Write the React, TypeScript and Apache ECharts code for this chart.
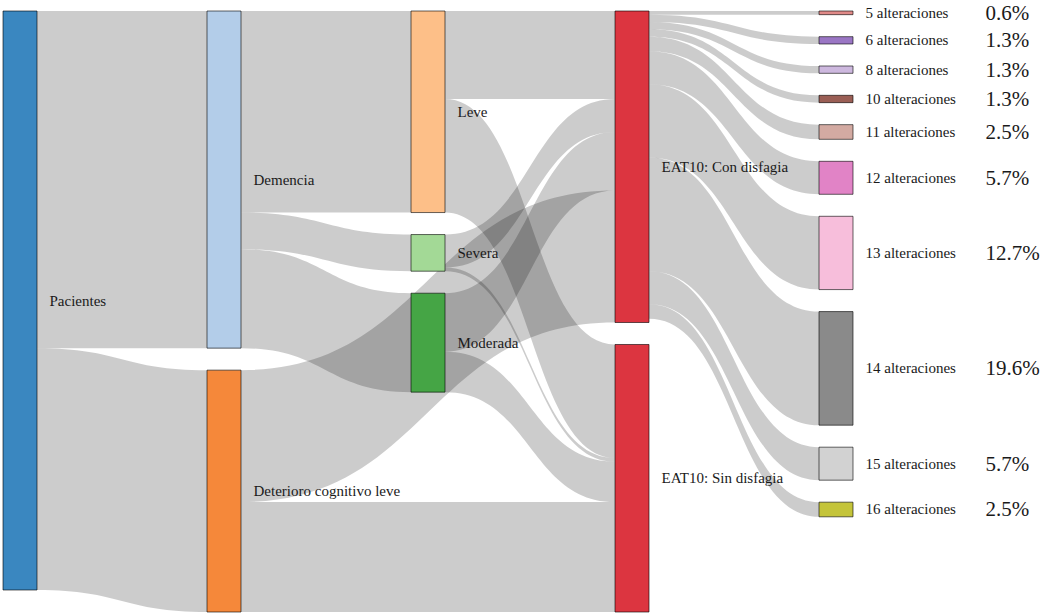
import React, { useEffect, useRef } from 'react';
import * as echarts from 'echarts';

// Nodes of the first four levels
const levelNodes = [
  'Pacientes',
  'Demencia',
  'Deterioro cognitivo leve',
  'Leve',
  'Severa',
  'Moderada',
  'EAT10: Con disfagia',
  'EAT10: Sin disfagia',
];
const levelColors = ['#3a87c0', '#b3cde9', '#f5883a', '#fdbf88', '#a3d996', '#45a545', '#dc3540', '#dc3540'];

// Last level: number of alterations
const altNames = [
  '5 alteraciones',
  '6 alteraciones',
  '8 alteraciones',
  '10 alteraciones',
  '11 alteraciones',
  '12 alteraciones',
  '13 alteraciones',
  '14 alteraciones',
  '15 alteraciones',
  '16 alteraciones',
];
const altCounts = [1, 2, 2, 2, 4, 9, 20, 31, 9, 4];
const altPercents = ['0.6%', '1.3%', '1.3%', '1.3%', '2.5%', '5.7%', '12.7%', '19.6%', '5.7%', '2.5%'];
const altColors = ['#e08a88', '#9a76c4', '#cdb8de', '#9a5e55', '#d3aaa2', '#e183c6', '#f7bedb', '#8a8a8a', '#d2d2d2', '#c4c43a'];
const altSource = 'EAT10: Con disfagia';

// Flows between the first four levels
const flowSources = [
  'Pacientes',
  'Pacientes',
  'Demencia',
  'Demencia',
  'Demencia',
  'Leve',
  'Leve',
  'Severa',
  'Severa',
  'Moderada',
  'Moderada',
  'Deterioro cognitivo leve',
  'Deterioro cognitivo leve',
];
const flowTargets = [
  'Demencia',
  'Deterioro cognitivo leve',
  'Leve',
  'Severa',
  'Moderada',
  'EAT10: Con disfagia',
  'EAT10: Sin disfagia',
  'EAT10: Con disfagia',
  'EAT10: Sin disfagia',
  'EAT10: Con disfagia',
  'EAT10: Sin disfagia',
  'EAT10: Con disfagia',
  'EAT10: Sin disfagia',
];
const flowValues = [92, 66, 55, 10, 27, 24, 31, 9, 1, 16, 11, 36, 30];

const FONT = '"Liberation Serif", "Times New Roman", serif';

export default function App() {
  const ref = useRef<HTMLDivElement>(null);

  useEffect(() => {
    if (!ref.current) return;
    const chart = echarts.init(ref.current, undefined, { renderer: 'svg' });

    const nodes = [
      ...levelNodes.map((name, i) => ({ name, itemStyle: { color: levelColors[i] } })),
      ...altNames.map((name, i) => ({ name, itemStyle: { color: altColors[i] } })),
    ];
    const links = [
      ...flowSources.map((s, i) => ({ source: s, target: flowTargets[i], value: flowValues[i] })),
      ...altNames.map((name, i) => ({ source: altSource, target: name, value: altCounts[i] })),
    ];

    chart.setOption({
      animation: false,
      backgroundColor: '#ffffff',
      series: [
        {
          type: 'sankey',
          left: 3,
          top: 11,
          right: 192,
          bottom: 3,
          nodeWidth: 34,
          nodeGap: 22,
          nodeAlign: 'left',
          layoutIterations: 0,
          draggable: false,
          emphasis: { focus: 'none' },
          data: nodes,
          links,
          itemStyle: { borderColor: 'rgba(0,0,0,0.6)', borderWidth: 1 },
          lineStyle: { color: '#000000', opacity: 0.2, curveness: 0.5 },
          label: {
            position: 'right',
            distance: 12,
            fontFamily: FONT,
            fontSize: 15,
            color: '#1a1a1a',
            formatter: (p: any) => {
              const idx = altNames.indexOf(p.name);
              if (idx >= 0) return `{a|${p.name}}{b|${altPercents[idx]}}`;
              return p.name;
            },
            rich: {
              a: { fontFamily: FONT, fontSize: 15, lineHeight: 18, color: '#1a1a1a', width: 120 },
              b: { fontFamily: FONT, fontSize: 21, lineHeight: 18, color: '#1a1a1a' },
            },
          },
        },
      ],
    });

    return () => {
      chart.dispose();
    };
  }, []);

  return (
    <div
      ref={ref}
      style={{ position: 'absolute', left: 0, top: 0, width: 1045, height: 615, background: '#fff' }}
    />
  );
}
